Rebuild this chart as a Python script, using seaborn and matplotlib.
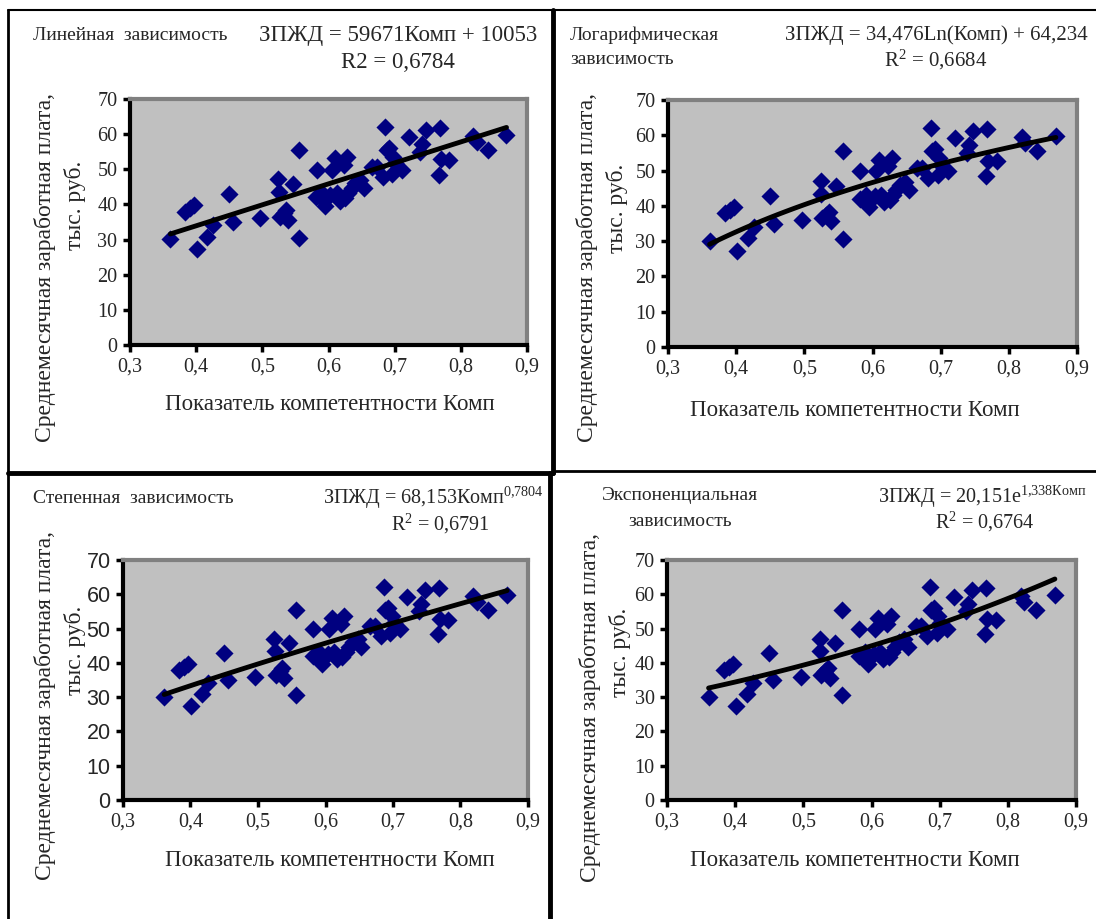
import numpy as np
import pandas as pd
import seaborn as sns
import matplotlib
matplotlib.use("Agg")
import matplotlib.pyplot as plt
from matplotlib.lines import Line2D

# competence index (Комп) and average monthly salary, thousand rub.
komp = [0.361, 0.383, 0.391, 0.397, 0.401, 0.417, 0.426, 0.450, 0.455, 0.496,
        0.524, 0.525, 0.526, 0.532, 0.536, 0.539, 0.546, 0.556, 0.556, 0.582,
        0.581, 0.590, 0.592, 0.595, 0.603, 0.605, 0.610, 0.613, 0.617, 0.623,
        0.625, 0.628, 0.630, 0.635, 0.640, 0.648, 0.653, 0.666, 0.673, 0.682,
        0.686, 0.688, 0.692, 0.696, 0.698, 0.701, 0.711, 0.721, 0.739, 0.741,
        0.748, 0.768, 0.767, 0.770, 0.782, 0.819, 0.824, 0.841, 0.869]
zpzd = [30.1, 37.9, 38.9, 39.8, 27.3, 30.8, 34.1, 42.9, 34.9, 36.0,
        47.1, 43.4, 36.5, 37.5, 38.4, 35.6, 45.7, 55.5, 30.5, 49.8,
        42.0, 43.2, 41.3, 39.6, 42.7, 49.8, 53.1, 43.2, 41.1, 51.2,
        41.7, 53.6, 43.2, 44.6, 46.0, 46.9, 44.6, 50.7, 50.7, 47.9,
        62.1, 55.5, 56.0, 48.8, 53.6, 51.7, 49.8, 59.1, 55.0, 57.2,
        61.2, 61.7, 48.4, 52.8, 52.6, 59.5, 57.7, 55.5, 59.8]

# trend coefficients as printed on the chart
lin_a, lin_b = 59.671, 10.053
log_a, log_b = 34.476, 64.234
pow_a, pow_b = 68.153, 0.7804
exp_a, exp_b = 20.151, 1.338

xticks = [0.3, 0.4, 0.5, 0.6, 0.7, 0.8, 0.9]
xtick_labels = ["0,3", "0,4", "0,5", "0,6", "0,7", "0,8", "0,9"]
yticks = [0, 10, 20, 30, 40, 50, 60, 70]

df = pd.DataFrame({"komp": komp, "zpzd": zpzd})
xs = np.linspace(min(komp), max(komp), 100)
trends = {
    "lin": lin_a * xs + lin_b,
    "log": log_a * np.log(xs) + log_b,
    "pow": pow_a * xs ** pow_b,
    "exp": exp_a * np.exp(exp_b * xs),
}

sns.set_theme(style="white")
plt.rcParams['font.family'] = ['Liberation Serif', 'DejaVu Serif']
plt.rcParams['mathtext.fontset'] = 'custom'
plt.rcParams['mathtext.rm'] = 'Liberation Serif'
plt.rcParams['mathtext.it'] = 'Liberation Serif'

W, H = 1096, 919
fig = plt.figure(figsize=(W / 100, H / 100), dpi=100)
fig.patch.set_facecolor('white')


def px_axes(l, r, t, b):
    return fig.add_axes([l / W, 1 - b / H, (r - l) / W, (b - t) / H])


def fline(x0, y0, x1, y1, lw):
    fig.add_artist(Line2D([x0 / W, x1 / W], [1 - y0 / H, 1 - y1 / H],
                          transform=fig.transFigure, color='black', lw=lw))


def ftext(x, y, s, size, ha='left', **kw):
    fig.text(x / W, 1 - y / H, s, fontsize=size, ha=ha, va='center', **kw)


panels = [
    # key, axes box (l, r, t, b), ylabel x, ylabel centers, xlabel pos, sans ticks
    ("lin", (130, 527, 99, 345), (45, 75), (267, 205), (330, 405), False),
    ("log", (668, 1077, 100, 347), (587, 617), (268, 208), (855, 410), False),
    ("pow", (123, 528, 560, 800), (45, 75), (705, 650), (330, 860), True),
    ("exp", (667, 1076, 560, 800), (590, 620), (707, 652), (855, 860), False),
]

for key, box, ylx, yly, xlp, sans in panels:
    ax = px_axes(*box)
    ax.set_facecolor('#C0C0C0')
    sns.scatterplot(data=df, x="komp", y="zpzd", marker='D', s=85,
                    color='#000080', edgecolor='#000080', linewidth=0, ax=ax)
    sns.lineplot(x=xs, y=trends[key], color='black', lw=3.5, ax=ax)
    ax.set_xlim(0.3, 0.9)
    ax.set_ylim(0, 70)
    ax.set_xticks(xticks)
    ax.set_xticklabels(xtick_labels)
    ax.set_yticks(yticks)
    ax.set_xlabel("")
    ax.set_ylabel("")
    ax.tick_params(axis='both', which='major', direction='out', length=5,
                   width=2.5, color='black', labelsize=14.5, pad=4,
                   bottom=True, left=True)
    if sans:
        for lab in ax.get_yticklabels():
            lab.set_family('Liberation Sans')
            lab.set_fontsize(15.5)
    for sp in ['left', 'bottom']:
        ax.spines[sp].set_linewidth(3)
        ax.spines[sp].set_color('black')
    for sp in ['top', 'right']:
        ax.spines[sp].set_linewidth(3)
        ax.spines[sp].set_color('#808080')
    ftext(ylx[0], yly[0], "Среднемесячная заработная плата,", 17,
          ha='center', rotation=90)
    ftext(ylx[1], yly[1], "тыс. руб.", 17, ha='center', rotation=90)
    ftext(xlp[0], xlp[1], "Показатель компетентности Комп", 16.5, ha='center')

# panel headers
ftext(33, 35, "Линейная  зависимость", 14)
ftext(398, 35, "ЗПЖД = 59671Комп + 10053", 16.5, ha='center')
ftext(398, 62, "R2 = 0,6784", 16.5, ha='center')

ftext(570, 35, "Логарифмическая", 14)
ftext(570, 60, "зависимость", 14)
ftext(936, 35, "ЗПЖД = 34,476Ln(Комп) + 64,234", 15, ha='center')
ftext(936, 60, "R$^{2}$ = 0,6684", 15, ha='center')

ftext(33, 498, "Степенная  зависимость", 14)
ftext(433, 498, "ЗПЖД = 68,153Комп$^{\\mathrm{0{,}7804}}$", 14.5, ha='center')
ftext(440, 524, "R$^{2}$ = 0,6791", 14.5, ha='center')

ftext(680, 495, "Экспоненциальная", 14, ha='center')
ftext(680, 521, "зависимость", 14, ha='center')
ftext(982, 497, "ЗПЖД = 20,151e$^{\\mathrm{1{,}338Комп}}$", 14.5, ha='center')
ftext(985, 522, "R$^{2}$ = 0,6764", 14.5, ha='center')

# panel frames
fline(8, 10, 1096, 10, 1.5)
fline(8, 10, 8, 919, 2)
fline(553, 10, 553, 473, 3.5)
fline(550, 473, 550, 919, 3.5)
fline(8, 473, 553, 473, 3.5)
fline(553, 471, 1096, 471, 2)

fig.savefig("out.png", dpi=100)
